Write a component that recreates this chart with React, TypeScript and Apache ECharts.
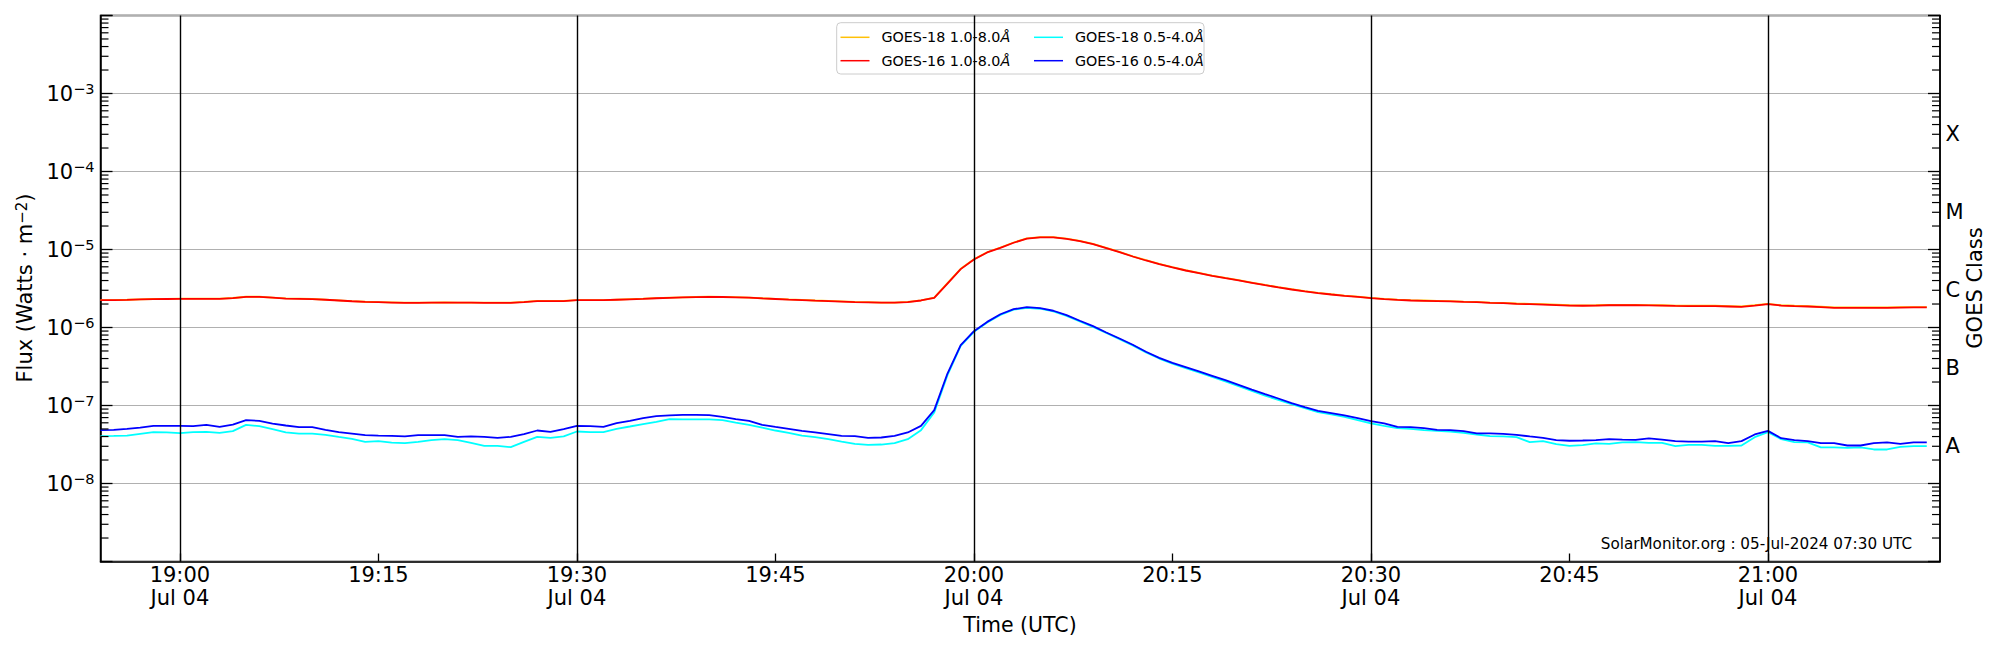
import React, { useEffect, useRef } from "react";
import * as echarts from "echarts";

const FONT = '"DejaVu Sans", "Liberation Sans", sans-serif';

// --- time axis -------------------------------------------------------------
const START_UTC = Date.UTC(2024, 6, 4, 18, 54); // first sample (1-minute cadence)
const CADENCE_MS = 60000;
const X_MIN = Date.UTC(2024, 6, 4, 18, 54);
const X_MAX = Date.UTC(2024, 6, 4, 21, 13);
const TICK_LABELS = ["19:00", "19:15", "19:30", "19:45", "20:00", "20:15", "20:30", "20:45", "21:00"];
const DATE_TICKS = ["19:00", "19:30", "20:00", "20:30", "21:00"];
const DATE_TEXT = "Jul 04";

// --- y axis ----------------------------------------------------------------
const Y_MIN = 1e-9;
const Y_MAX = 1e-2;
const LABELED_EXPONENTS = [-3, -4, -5, -6, -7, -8];
const MINOR_MULTIPLIERS = [2, 3, 4, 5, 6, 7, 8, 9];
const MINOR_DECADES = [-9, -8, -7, -6, -5, -4, -3];
const CLASS_NAMES = ["A", "B", "C", "M", "X"];
const CLASS_LEVELS = [3e-8, 3e-7, 3e-6, 3e-5, 3e-4];

// --- series (one value per minute from 18:54 UTC) ---------------------------
const LONG_UNIT = 1e-6;
const SHORT_UNIT = 1e-8;

const NAME_G18_LONG = "GOES-18 1.0-8.0Å";
const NAME_G16_LONG = "GOES-16 1.0-8.0Å";
const NAME_G18_SHORT = "GOES-18 0.5-4.0Å";
const NAME_G16_SHORT = "GOES-16 0.5-4.0Å";

// x 1e-6 W/m^2
const goes18Long = [
  2.25, 2.25, 2.27, 2.30, 2.32, 2.33, 2.34, 2.34, 2.34, 2.34,
  2.39, 2.48, 2.48, 2.42, 2.36, 2.34, 2.32, 2.28, 2.23, 2.18,
  2.14, 2.12, 2.10, 2.08, 2.08, 2.09, 2.10, 2.09, 2.09, 2.08,
  2.08, 2.08, 2.13, 2.19, 2.19, 2.19, 2.25, 2.25, 2.25, 2.28,
  2.31, 2.34, 2.38, 2.41, 2.44, 2.46, 2.48, 2.47, 2.45, 2.42,
  2.37, 2.33, 2.29, 2.26, 2.22, 2.19, 2.16, 2.13, 2.11, 2.09,
  2.09, 2.13, 2.23, 2.42, 3.70, 5.65, 7.50, 9.22, 10.6, 12.3,
  13.9, 14.4, 14.4, 13.8, 12.9, 11.8, 10.5, 9.32, 8.19, 7.29,
  6.54, 5.93, 5.42, 5.02, 4.64, 4.32, 4.04, 3.77, 3.52, 3.29,
  3.10, 2.92, 2.78, 2.67, 2.57, 2.49, 2.40, 2.33, 2.28, 2.24,
  2.22, 2.20, 2.18, 2.15, 2.13, 2.09, 2.07, 2.03, 2.01, 1.99,
  1.96, 1.93, 1.92, 1.93, 1.95, 1.95, 1.95, 1.94, 1.93, 1.91,
  1.90, 1.90, 1.90, 1.88, 1.86, 1.93, 2.01, 1.93, 1.90, 1.88,
  1.85, 1.81, 1.81, 1.81, 1.81, 1.81, 1.82, 1.83, 1.83,
];

// x 1e-6 W/m^2
const goes16Long = [
  2.24, 2.24, 2.26, 2.29, 2.31, 2.32, 2.33, 2.33, 2.33, 2.33,
  2.38, 2.47, 2.47, 2.41, 2.35, 2.33, 2.31, 2.27, 2.22, 2.17,
  2.13, 2.11, 2.09, 2.07, 2.07, 2.08, 2.09, 2.08, 2.08, 2.07,
  2.07, 2.07, 2.12, 2.18, 2.18, 2.18, 2.24, 2.24, 2.24, 2.27,
  2.30, 2.33, 2.37, 2.40, 2.43, 2.45, 2.47, 2.46, 2.44, 2.41,
  2.36, 2.32, 2.28, 2.25, 2.21, 2.18, 2.15, 2.12, 2.10, 2.08,
  2.08, 2.12, 2.22, 2.40, 3.66, 5.60, 7.44, 9.16, 10.5, 12.2,
  13.8, 14.3, 14.3, 13.7, 12.8, 11.7, 10.4, 9.25, 8.13, 7.23,
  6.49, 5.88, 5.38, 4.98, 4.60, 4.29, 4.01, 3.74, 3.49, 3.26,
  3.07, 2.90, 2.76, 2.65, 2.55, 2.47, 2.38, 2.31, 2.26, 2.22,
  2.20, 2.18, 2.16, 2.13, 2.11, 2.07, 2.05, 2.01, 1.99, 1.97,
  1.94, 1.91, 1.90, 1.91, 1.93, 1.93, 1.93, 1.92, 1.91, 1.89,
  1.88, 1.88, 1.88, 1.86, 1.84, 1.91, 1.99, 1.91, 1.88, 1.86,
  1.83, 1.79, 1.79, 1.79, 1.79, 1.79, 1.80, 1.81, 1.81,
];

// x 1e-8 W/m^2
const goes18Short = [
  4.05, 4.08, 4.12, 4.33, 4.55, 4.51, 4.42, 4.55, 4.59, 4.47,
  4.69, 5.65, 5.43, 4.98, 4.51, 4.37, 4.37, 4.21, 3.96, 3.73,
  3.42, 3.49, 3.35, 3.29, 3.42, 3.60, 3.70, 3.60, 3.32, 3.04,
  3.04, 2.92, 3.42, 3.96, 3.85, 4.01, 4.64, 4.55, 4.55, 5.02,
  5.38, 5.77, 6.18, 6.68, 6.62, 6.62, 6.62, 6.49, 6.05, 5.65,
  5.22, 4.78, 4.47, 4.12, 3.93, 3.70, 3.45, 3.23, 3.13, 3.16,
  3.29, 3.70, 4.83, 8.13, 24.5, 58.0, 88.0, 116, 145, 169,
  179, 174, 161, 141, 120, 102, 85.0, 71.0, 59.0, 48.0,
  40.0, 34.5, 30.2, 26.6, 23.3, 20.3, 17.7, 15.4, 13.4, 11.8,
  10.4, 9.25, 8.22, 7.67, 7.16, 6.49, 5.88, 5.48, 5.12, 5.02,
  4.83, 4.73, 4.64, 4.47, 4.25, 4.05, 4.01, 3.93, 3.39, 3.49,
  3.19, 3.04, 3.10, 3.26, 3.23, 3.36, 3.39, 3.32, 3.32, 3.01,
  3.13, 3.13, 3.04, 3.04, 3.07, 3.93, 4.55, 3.70, 3.39, 3.36,
  2.90, 2.90, 2.87, 2.90, 2.73, 2.73, 2.95, 3.01, 3.01,
];

// x 1e-8 W/m^2
const goes16Short = [
  4.83, 4.88, 5.02, 5.22, 5.48, 5.48, 5.48, 5.43, 5.65, 5.32,
  5.70, 6.49, 6.36, 5.87, 5.54, 5.27, 5.27, 4.88, 4.55, 4.37,
  4.17, 4.12, 4.08, 4.01, 4.17, 4.17, 4.17, 3.96, 4.01, 3.96,
  3.85, 3.96, 4.29, 4.78, 4.59, 4.98, 5.48, 5.43, 5.32, 5.94,
  6.36, 6.89, 7.30, 7.45, 7.59, 7.59, 7.52, 7.16, 6.68, 6.36,
  5.65, 5.32, 5.02, 4.73, 4.51, 4.29, 4.08, 4.05, 3.85, 3.89,
  4.08, 4.51, 5.48, 8.71, 25.7, 59.4, 89.7, 118, 148, 172,
  182, 177, 164, 144, 122, 104, 86.3, 72.3, 60.0, 48.8,
  40.8, 35.2, 31.0, 27.3, 24.0, 21.1, 18.4, 16.0, 14.0, 12.3,
  10.7, 9.53, 8.55, 7.98, 7.45, 6.89, 6.30, 5.88, 5.32, 5.27,
  5.12, 4.88, 4.83, 4.69, 4.38, 4.40, 4.34, 4.21, 4.01, 3.85,
  3.60, 3.53, 3.56, 3.60, 3.70, 3.66, 3.63, 3.78, 3.66, 3.49,
  3.45, 3.45, 3.49, 3.29, 3.49, 4.25, 4.73, 3.81, 3.60, 3.49,
  3.29, 3.29, 3.07, 3.07, 3.29, 3.36, 3.23, 3.36, 3.36,
];

const COLORS = {
  g18Long: "#ffc107",
  g16Long: "#ff0000",
  g18Short: "#00ffff",
  g16Short: "#0000ff",
};

const hhmmToMs = (s: string) => {
  const [h, m] = s.split(":").map(Number);
  return Date.UTC(2024, 6, 4, h, m);
};
const pad2 = (n: number) => String(n).padStart(2, "0");
const fmtHHMM = (v: number) => {
  const d = new Date(v);
  return `${pad2(d.getUTCHours())}:${pad2(d.getUTCMinutes())}`;
};

const toPairs = (vals: number[], unit: number) =>
  vals.map((v, i) => [START_UTC + i * CADENCE_MS, v * unit]);

export default function App() {
  const ref = useRef<HTMLDivElement>(null);

  useEffect(() => {
    if (!ref.current) return;
    const chart = echarts.init(ref.current, undefined, { renderer: "svg" });

    const tickMs = TICK_LABELS.map(hhmmToMs);
    const dateMs = DATE_TICKS.map(hhmmToMs);
    const minorTicks: number[] = [];
    MINOR_DECADES.forEach((e) =>
      MINOR_MULTIPLIERS.forEach((m) => minorTicks.push(m * Math.pow(10, e)))
    );

    const legendFormatter = (name: string) => name.replace("Å", "{i|Å}");
    const legendText = {
      fontSize: 14.3,
      fontFamily: FONT,
      color: "#000",
      lineHeight: 16,
      padding: [0, 0, 0, 7],
      rich: { i: { fontStyle: "italic", fontSize: 14.3, fontFamily: FONT, color: "#000" } },
    };

    const lineSeries = (name: string, data: number[][], color: string, extra: any = {}) => ({
      name,
      type: "line",
      data,
      showSymbol: false,
      symbol: "none",
      silent: true,
      lineStyle: { color, width: 1.8 },
      itemStyle: { color },
      emphasis: { disabled: true },
      z: 2,
      ...extra,
    });

    const yAxisBase = {
      type: "log",
      logBase: 10,
      min: Y_MIN,
      max: Y_MAX,
      axisLine: { show: true, lineStyle: { color: "#000", width: 1.5 } },
      axisTick: { show: true, inside: true, length: 12, lineStyle: { color: "#000", width: 1.3 } },
      minorTick: { show: false },
      minorSplitLine: { show: false },
    };

    const option: any = {
      animation: false,
      backgroundColor: "#ffffff",
      textStyle: { fontFamily: FONT },
      grid: {
        left: 100.5,
        right: 60,
        top: 15.5,
        bottom: 88.5,
        show: true,
        borderColor: "#000",
        borderWidth: 1.5,
        backgroundColor: "transparent",
      },
      legend: [
        {
          left: 840.5,
          top: 29.3,
          orient: "vertical",
          padding: 0,
          icon: "rect",
          itemWidth: 29,
          itemHeight: 1.5,
          itemGap: 7.4,
          selectedMode: false,
          z: 10,
          data: [NAME_G18_LONG, NAME_G16_LONG],
          formatter: legendFormatter,
          textStyle: legendText,
        },
        {
          left: 1034,
          top: 29.3,
          orient: "vertical",
          padding: 0,
          icon: "rect",
          itemWidth: 29,
          itemHeight: 1.5,
          itemGap: 7.4,
          selectedMode: false,
          z: 10,
          data: [NAME_G18_SHORT, NAME_G16_SHORT],
          formatter: legendFormatter,
          textStyle: legendText,
        },
      ],
      xAxis: [
        {
          type: "value",
          min: X_MIN,
          max: X_MAX,
          axisLine: { show: true, lineStyle: { color: "#000", width: 1.5 } },
          axisTick: {
            show: true,
            inside: true,
            length: 8,
            customValues: tickMs,
            lineStyle: { color: "#000", width: 1.3 },
          },
          axisLabel: {
            customValues: tickMs,
            color: "#000",
            fontSize: 21,
            fontFamily: FONT,
            lineHeight: 23,
            margin: 2,
            formatter: (v: number) => {
              const t = fmtHHMM(v);
              return DATE_TICKS.includes(t) ? `${t}\n${DATE_TEXT}` : t;
            },
          },
          splitLine: { show: false },
        },
      ],
      yAxis: [
        {
          ...yAxisBase,
          position: "left",
          axisLabel: {
            margin: 6,
            formatter: (v: number) => {
              const e = Math.round(Math.log10(v));
              if (!LABELED_EXPONENTS.includes(e)) return "";
              return `{b|10}{s|\u2212${-e}}`;
            },
            rich: {
              b: { fontSize: 21, fontFamily: FONT, color: "#000", lineHeight: 24 },
              s: { fontSize: 14.5, fontFamily: FONT, color: "#000", lineHeight: 12, verticalAlign: "top" },
            },
          },
          splitLine: { show: true, lineStyle: { color: "#b0b0b0", width: 1.2 } },
        },
        {
          ...yAxisBase,
          position: "right",
          axisLabel: { show: false },
          splitLine: { show: false },
        },
      ],
      graphic: [
        {
          type: "rect",
          z: 5,
          shape: { x: 836.7, y: 22.7, width: 367.3, height: 51.3, r: 4 },
          style: { fill: "rgba(255,255,255,0.8)", stroke: "#cccccc", lineWidth: 1 },
        },
        {
          type: "text",
          x: 1912,
          y: 543.5,
          z: 5,
          style: {
            text: "SolarMonitor.org : 05-Jul-2024 07:30 UTC",
            fontSize: 15.2,
            fontFamily: FONT,
            fill: "#000",
            align: "right",
            verticalAlign: "middle",
          },
        },
        {
          type: "text",
          x: 1020,
          y: 625,
          style: {
            text: "Time (UTC)",
            fontSize: 20.5,
            fontFamily: FONT,
            fill: "#000",
            align: "center",
            verticalAlign: "middle",
          },
        },
        {
          type: "text",
          x: 24.5,
          y: 288,
          rotation: Math.PI / 2,
          style: {
            text: "Flux (Watts \u00b7 m{s|\u22122})",
            fontSize: 21,
            fontFamily: FONT,
            fill: "#000",
            align: "center",
            verticalAlign: "middle",
            rich: {
              s: { fontSize: 15, fontFamily: FONT, fill: "#000", lineHeight: 12, verticalAlign: "top" },
            },
          },
        },
        {
          type: "text",
          x: 1975,
          y: 288,
          rotation: Math.PI / 2,
          style: {
            text: "GOES Class",
            fontSize: 21,
            fontFamily: FONT,
            fill: "#000",
            align: "center",
            verticalAlign: "middle",
          },
        },
      ],
      series: [
        lineSeries(NAME_G18_LONG, toPairs(goes18Long, LONG_UNIT), COLORS.g18Long),
        lineSeries(NAME_G16_LONG, toPairs(goes16Long, LONG_UNIT), COLORS.g16Long),
        lineSeries(NAME_G18_SHORT, toPairs(goes18Short, SHORT_UNIT), COLORS.g18Short),
        lineSeries(NAME_G16_SHORT, toPairs(goes16Short, SHORT_UNIT), COLORS.g16Short, {
          markLine: {
            silent: true,
            symbol: ["none", "none"],
            label: { show: false },
            lineStyle: { color: "#000", type: "solid", width: 1.4 },
            emphasis: { disabled: true },
            data: dateMs.map((t) => ({ xAxis: t })),
          },
        }),
        {
          type: "custom",
          silent: true,
          clip: false,
          z: 3,
          data: minorTicks.map((v) => [X_MIN, v]),
          encode: { x: 0, y: 1 },
          renderItem: (_params: any, api: any) => {
            const v = api.value(1);
            const l = api.coord([X_MIN, v]);
            const r = api.coord([X_MAX, v]);
            return {
              type: "group",
              children: [
                { type: "line", shape: { x1: l[0], y1: l[1], x2: l[0] + 8, y2: l[1] }, style: { stroke: "#000", lineWidth: 1.2 } },
                { type: "line", shape: { x1: r[0] - 8, y1: r[1], x2: r[0], y2: r[1] }, style: { stroke: "#000", lineWidth: 1.2 } },
              ],
            };
          },
        },
        {
          type: "custom",
          silent: true,
          clip: false,
          z: 3,
          data: CLASS_LEVELS.map((v) => [X_MAX, v]),
          encode: { x: 0, y: 1 },
          renderItem: (params: any, api: any) => {
            const p = api.coord([X_MAX, api.value(1)]);
            return {
              type: "text",
              x: p[0] + 5.5,
              y: p[1],
              style: {
                text: CLASS_NAMES[params.dataIndex],
                fontSize: 21,
                fontFamily: FONT,
                fill: "#000",
                align: "left",
                verticalAlign: "middle",
              },
            };
          },
        },
      ],
    };

    chart.setOption(option);
    return () => chart.dispose();
  }, []);

  return (
    <div
      ref={ref}
      style={{ position: "fixed", left: 0, top: 0, width: 2000, height: 650, background: "#fff" }}
    />
  );
}
